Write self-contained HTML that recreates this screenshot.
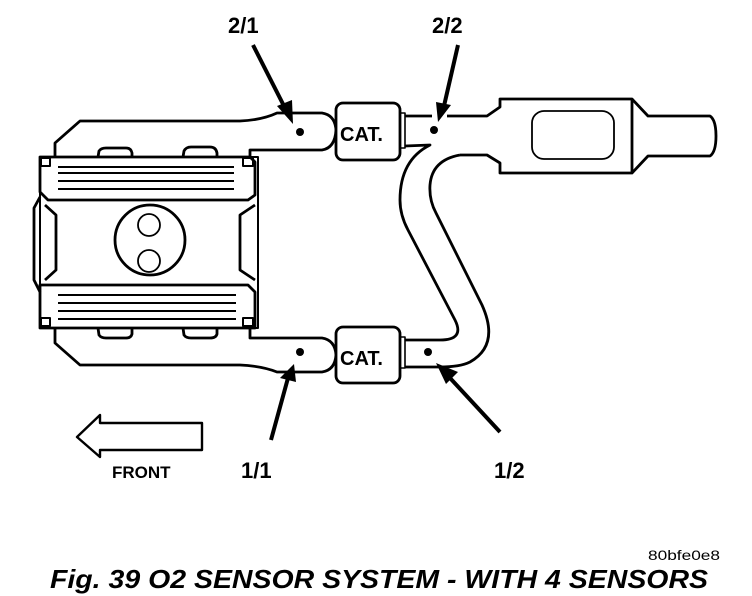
<!DOCTYPE html>
<html><head><style>
html,body{margin:0;padding:0;background:#fff;width:752px;height:596px;overflow:hidden}
svg{display:block}
text{font-family:"Liberation Sans",sans-serif;font-weight:bold;fill:#000}
</style></head><body>
<svg width="752" height="596" viewBox="0 0 752 596" xmlns="http://www.w3.org/2000/svg">
<g fill="none" stroke="#000" stroke-width="2.8" stroke-linejoin="round">
<path d="M55,157 L55,143 L80,121 L240,121 Q262,120 277,113 L322,113 Q335,115 336,130 Q335,148 322,150 L250,150 L250,157"/>
<path d="M55,328 L55,343 L80,365 L240,365 Q262,366 277,372 L322,372 Q335,370 336,355 Q335,340 322,338 L250,338 L250,328"/>
<path d="M98,157 L99,151 Q101,148 106,148 L126,148 Q131,148 132,153 L132,157"/>
<path d="M183,157 L184,151 Q186,147 191,147 L210,147 Q216,147 217,153 L217,157"/>
<path d="M98,328 L99,335 Q101,338 106,338 L126,338 Q131,338 132,334 L132,328"/>
<path d="M183,328 L184,335 Q186,338 191,338 L210,338 Q216,338 217,334 L217,328"/>
<path d="M40,157 L258,157 L258,328 L40,328 Z" stroke-width="2"/>
<path d="M40,157 L250,157 L255,162 L255,195 L248,200 L48,200 L40,192 Z" fill="#fff"/>
<path d="M40,285 L248,285 L255,292 L255,328 L40,328 Z" fill="#fff"/>
<path d="M40,197 L34,208 L34,280 L40,292"/>
<path d="M45,205 L56,215 L56,270 L45,280"/>
<path d="M255,205 L240,215 L240,270 L255,280"/>
<rect x="41" y="158" width="9" height="8" stroke-width="2"/>
<rect x="243" y="158" width="10" height="8" stroke-width="2"/>
<rect x="41" y="318" width="9" height="8" stroke-width="2"/>
<rect x="243" y="318" width="10" height="8" stroke-width="2"/>
<circle cx="150" cy="240" r="35"/>
<circle cx="149" cy="225" r="11" stroke-width="1.8"/>
<circle cx="149" cy="261" r="11" stroke-width="1.8"/>
</g>
<g stroke="#000" stroke-width="2">
<line x1="58" y1="167" x2="234" y2="167"/><line x1="58" y1="173" x2="234" y2="173"/>
<line x1="58" y1="181" x2="234" y2="181"/><line x1="58" y1="189" x2="234" y2="189"/>
<line x1="58" y1="295" x2="236" y2="295"/><line x1="58" y1="303" x2="236" y2="303"/>
<line x1="58" y1="311" x2="236" y2="311"/><line x1="58" y1="319" x2="236" y2="319"/>
</g>
<g fill="none" stroke="#000" stroke-width="2.8" stroke-linejoin="round">
<rect x="336" y="103" width="64" height="57" rx="7" fill="#fff"/>
<rect x="336" y="327" width="64" height="56" rx="7" fill="#fff"/>
<rect x="400" y="113" width="5" height="35" stroke-width="1.6"/>
<rect x="400" y="337" width="5" height="31" stroke-width="1.6"/>
<path d="M405,116 L432,116 M447,116 L487,116 L500,107 L500,99 L632,99 L648,116 L710,116 Q716,120 716,136 Q716,152 710,156 L648,156 L632,173 L500,173 L500,163 L487,155 L460,155"/>
<rect x="532" y="111" width="82" height="48" rx="12" stroke-width="1.8"/>
<line x1="632" y1="99" x2="632" y2="173"/>
<path d="M405,146 L430,145 Q400,160 400,200 Q400,215 408,230 L455,320 Q465,340 440,340 L405,340"/>
<path d="M460,155 Q432,160 430,185 Q429,200 436,213 L482,305 Q500,345 470,362 Q460,367 440,367 L405,367"/>
<path d="M77,437 L100,415 L100,423 L202,423 L202,450 L100,450 L100,457 Z" stroke-width="2.4"/>
</g>
<g fill="#000">
<circle cx="300" cy="132" r="4"/><circle cx="434" cy="130" r="4"/>
<circle cx="300" cy="352" r="4"/><circle cx="428" cy="352" r="4"/>
</g>
<g stroke="#000" stroke-width="4" fill="#000">
<line x1="253" y1="45" x2="285" y2="108"/>
<polygon points="293,124 277,106 292,100" stroke="none"/>
<line x1="458" y1="45" x2="444" y2="106"/>
<polygon points="438,122 436,102 451,105" stroke="none"/>
<line x1="271" y1="440" x2="288" y2="378"/>
<polygon points="294,364 296,382 280,378" stroke="none"/>
<line x1="500" y1="432" x2="450" y2="378"/>
<polygon points="436,363 458,372 446,384" stroke="none"/>
</g>
<text x="228" y="33" font-size="22">2/1</text>
<text x="432" y="33" font-size="22">2/2</text>
<text x="241" y="478" font-size="22">1/1</text>
<text x="494" y="478" font-size="22">1/2</text>
<text x="340" y="141" font-size="20">CAT.</text>
<text x="340" y="365" font-size="20">CAT.</text>
<text x="112" y="478" font-size="17">FRONT</text>
<text x="648" y="560" font-size="14" style="font-weight:normal" textLength="72" lengthAdjust="spacingAndGlyphs">80bfe0e8</text>
<text x="50" y="588" font-size="26" font-style="italic" textLength="658" lengthAdjust="spacingAndGlyphs">Fig. 39 O2 SENSOR SYSTEM - WITH 4 SENSORS</text>
</svg>
</body></html>
